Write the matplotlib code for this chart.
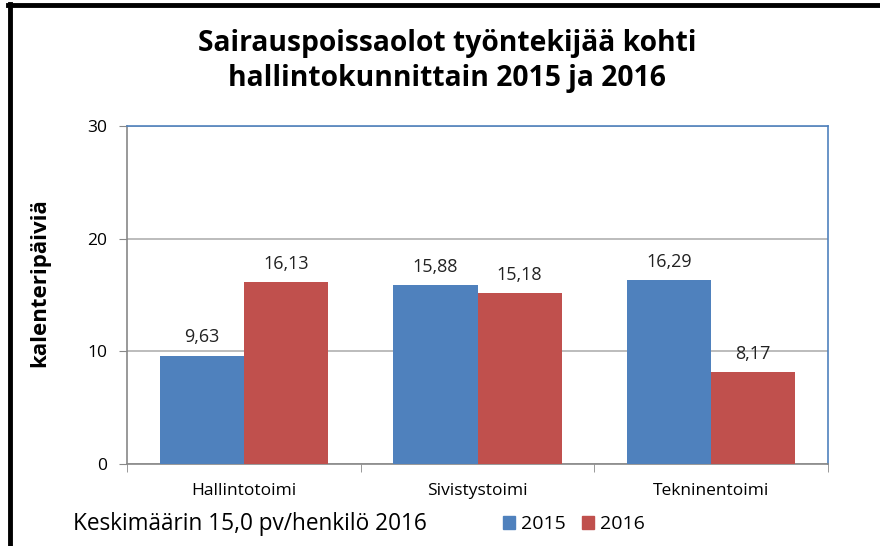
import numpy as np
import matplotlib
matplotlib.use('Agg')
import matplotlib.pyplot as plt
from matplotlib.lines import Line2D

# chart data
categories = ['Hallintotoimi', 'Sivistystoimi', 'Tekninentoimi']
years = ['2015', '2016']
values_2015 = [9.63, 15.88, 16.29]
values_2016 = [16.13, 15.18, 8.17]
y_ticks = [0, 10, 20, 30]

plt.rcParams['font.family'] = ['Open Sans', 'DejaVu Sans']

fig = plt.figure(figsize=(8.8, 5.46), dpi=100)
ax = fig.add_axes([127/880, 1 - 464/546, (828 - 127)/880, (464 - 126)/546])

x = np.arange(len(categories))
w = 0.36
colors = ['#4f81bd', '#c0504d']
for vals, off, col in [(values_2015, -w/2, colors[0]), (values_2016, w/2, colors[1])]:
    bars = ax.bar(x + off, vals, width=w, color=col, zorder=3)
    for b, v in zip(bars, vals):
        ax.text(b.get_x() + b.get_width()/2, v + 0.8, f'{v:.2f}'.replace('.', ','),
                ha='center', va='bottom', fontsize=13, color='#222222')

ax.set_xlim(-0.5, len(categories) - 0.5)
ax.set_ylim(0, 30)
ax.set_yticks(y_ticks)
ax.set_yticklabels([str(t) for t in y_ticks], fontsize=12.5)
ax.set_xticks(x)
ax.set_xticklabels(categories, fontsize=12.5)
ax.set_xticks([-0.5, 0.5, 1.5, 2.5], minor=True)
ax.tick_params(axis='x', which='major', length=0, pad=14)
ax.tick_params(axis='x', which='minor', length=6, color='#888888')
ax.tick_params(axis='y', length=6, color='#888888', pad=8)
ax.yaxis.grid(True, color='#b0b0b0', linewidth=1.2, zorder=0)

for side in ['top', 'right']:
    ax.spines[side].set_color('#4f81bd')
    ax.spines[side].set_linewidth(1.2)
for side in ['left', 'bottom']:
    ax.spines[side].set_color('#888888')
    ax.spines[side].set_linewidth(1.2)

ax.set_ylabel('kalenteripäiviä', fontsize=16, fontweight='bold', va='center')
ax.yaxis.set_label_coords(-0.125, 0.536)

fig.text(447/880, 1 - 61/546, 'Sairauspoissaolot työntekijää kohti\nhallintokunnittain 2015 ja 2016',
         ha='center', va='center', fontsize=20.3, fontweight='bold', linespacing=1.3)

fig.text(73/880, 1 - 524/546, 'Keskimäärin 15,0 pv/henkilö 2016', ha='left', va='center', fontsize=16.3)

handles = [plt.Rectangle((0, 0), 1, 1, color=c) for c in colors]
fig.legend(handles, years, loc='center left', bbox_to_anchor=(493/880, 1 - 524/546),
           frameon=False, ncol=2, fontsize=14, handlelength=0.65, handleheight=0.65,
           handletextpad=0.3, columnspacing=0.8, borderpad=0)

# outer frame lines (top and left)
fig.add_artist(Line2D([8/880, 1], [1 - 5/546, 1 - 5/546], color='black', linewidth=3.5))
fig.add_artist(Line2D([10/880, 10/880], [0, 1 - 4/546], color='black', linewidth=3.5))

fig.savefig('out.png', dpi=100)
